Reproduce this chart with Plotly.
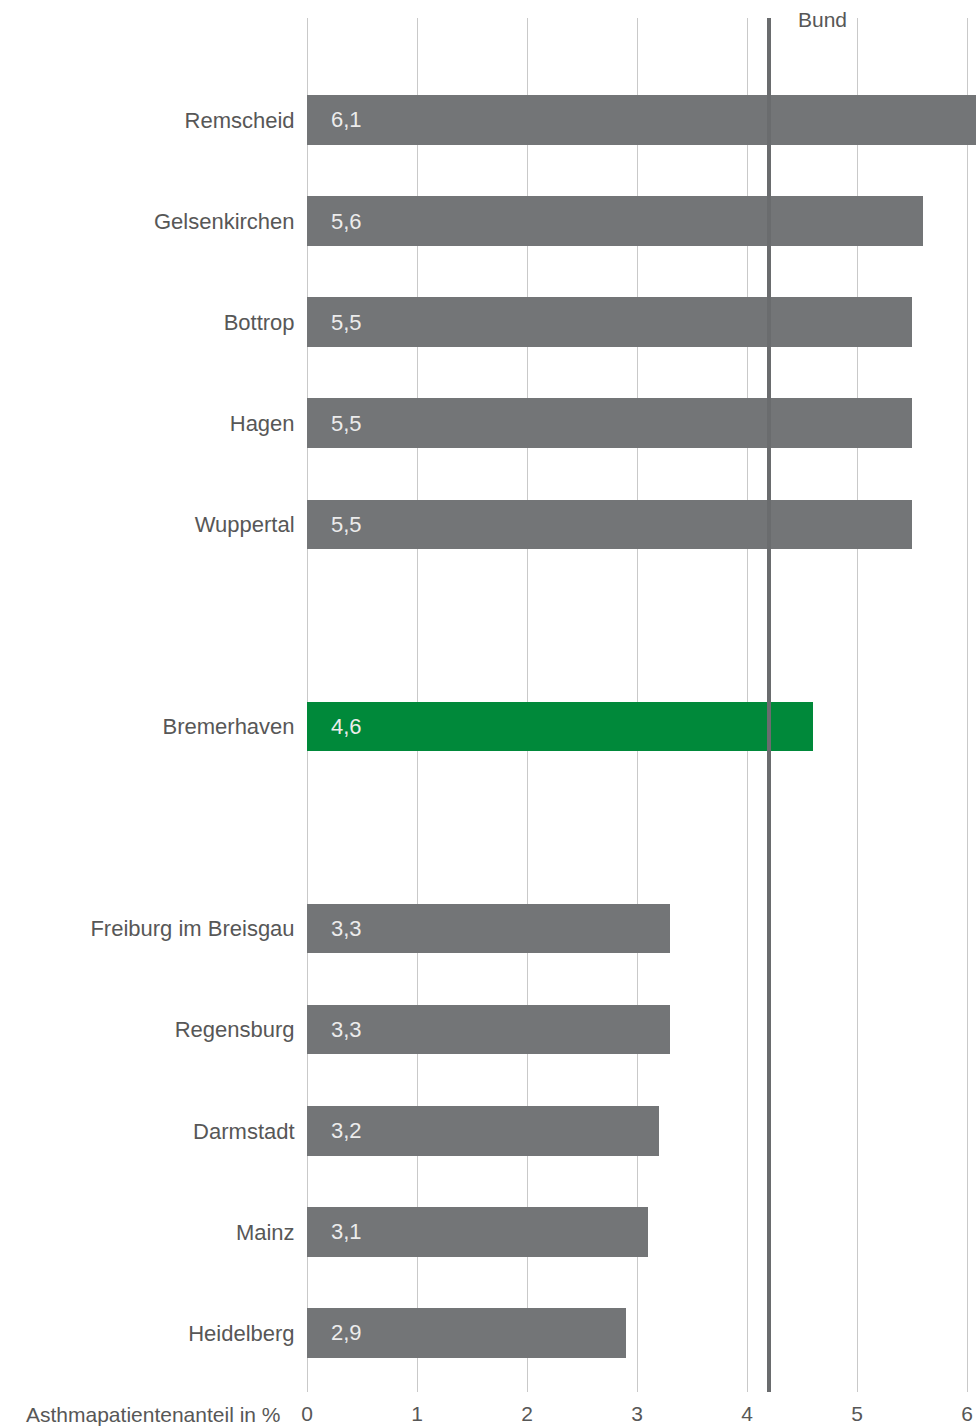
import plotly.graph_objects as go

# Share of asthma patients (%) by city, in three groups
top_cities = ["Remscheid", "Gelsenkirchen", "Bottrop", "Hagen", "Wuppertal"]
top_values = [6.1, 5.6, 5.5, 5.5, 5.5]
mid_cities = ["Bremerhaven"]
mid_values = [4.6]
low_cities = ["Freiburg im Breisgau", "Regensburg", "Darmstadt", "Mainz", "Heidelberg"]
low_values = [3.3, 3.3, 3.2, 3.1, 2.9]
national_avg = 4.2
x_ticks = [0, 1, 2, 3, 4, 5, 6]

GREY = "#737577"
GREEN = "#00893a"
TEXT = "#575757"
FONT = "Liberation Sans, Arial, sans-serif"
FS = 22

# Lay out groups with one empty slot between them
groups = [(top_cities, top_values, GREY), (mid_cities, mid_values, GREEN), (low_cities, low_values, GREY)]
ys, xs, cols, names = [], [], [], []
pos = 0
for gi, (cities, vals, col) in enumerate(groups):
    if gi > 0:
        pos += 1
    for c, v in zip(cities, vals):
        ys.append(pos)
        xs.append(v)
        cols.append(col)
        names.append(c)
        pos += 1
last = pos - 1

fig = go.Figure()
fig.add_trace(go.Bar(
    x=xs, y=ys, orientation="h", width=0.49,
    marker=dict(color=cols, line=dict(width=0)),
    hoverinfo="skip",
))

annotations = []
for y, v in zip(ys, xs):
    annotations.append(dict(
        x=0, y=y, xref="x", yref="y", xanchor="left", yanchor="middle",
        xshift=22, text=f"{v:.1f}".replace(".", ","), showarrow=False,
        font=dict(family=FONT, size=FS, color="#ececec"),
    ))
annotations.append(dict(
    x=national_avg, y=1, xref="x", yref="paper", xanchor="left", yanchor="middle",
    xshift=27, yshift=-1, text="Bund", showarrow=False,
    font=dict(family=FONT, size=FS - 1, color=TEXT),
))
annotations.append(dict(
    x=0, y=0, xref="paper", yref="paper", xanchor="right", yanchor="middle",
    xshift=-24, yshift=-22, text="Asthmapatientenanteil in %", showarrow=False,
    font=dict(family=FONT, size=FS - 1, color=TEXT),
))

W, H = 976, 1426
ml, mr, mt, mb = 307, 0, 18, 34
px_per_unit = 110.0

fig.update_layout(
    width=W, height=H,
    margin=dict(l=ml, r=mr, t=mt, b=mb, pad=0, autoexpand=False),
    paper_bgcolor="white", plot_bgcolor="white",
    showlegend=False, bargap=0,
    annotations=annotations,
    shapes=[dict(
        type="line", xref="x", yref="paper", x0=national_avg, x1=national_avg,
        y0=0, y1=1, line=dict(color="#6a6c6e", width=4), layer="above",
    )],
    xaxis=dict(
        range=[0, (W - ml - mr) / px_per_unit],
        tickvals=x_ticks, ticktext=[str(t) for t in x_ticks],
        showgrid=True, gridcolor="#c9c9c9", gridwidth=1,
        zeroline=True, zerolinecolor="#c9c9c9", zerolinewidth=1,
        showline=False, ticks="outside", ticklen=3, tickcolor="rgba(0,0,0,0)",
        tickfont=dict(family=FONT, size=FS - 1, color=TEXT),
        automargin=False, fixedrange=True,
    ),
    yaxis=dict(
        range=[last + 0.584, -1.009],
        tickvals=ys, ticktext=names,
        showgrid=False, zeroline=False, showline=False,
        ticks="outside", ticklen=7, tickcolor="rgba(0,0,0,0)",
        tickfont=dict(family=FONT, size=FS, color=TEXT),
        automargin=False, fixedrange=True,
    ),
)

fig.write_html("out.html")
